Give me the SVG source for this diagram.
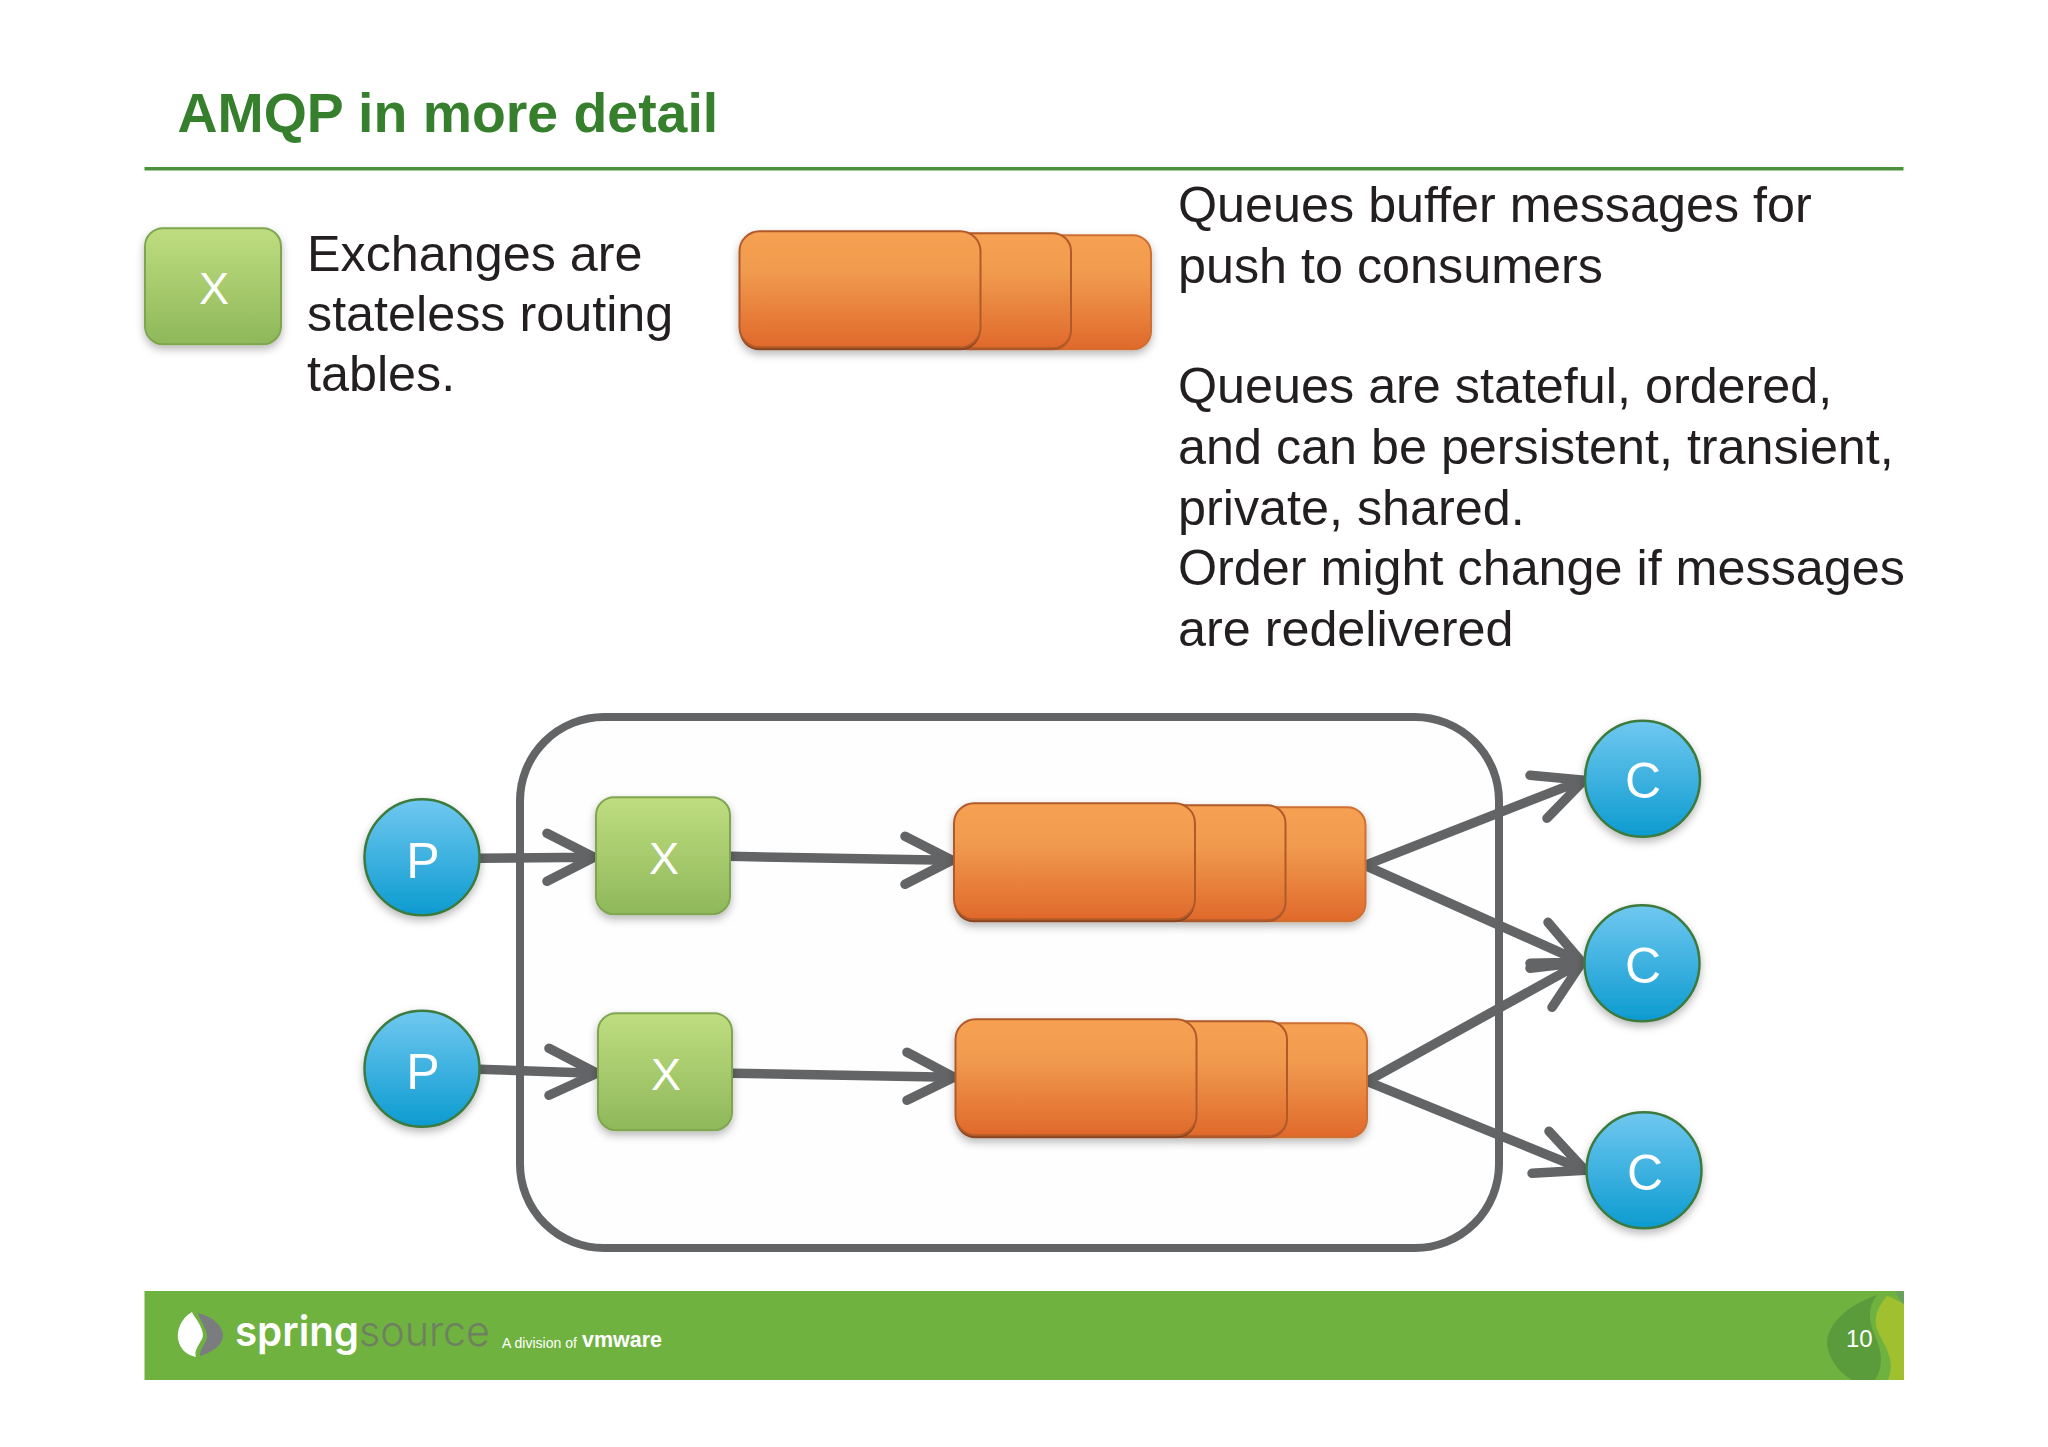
<svg xmlns="http://www.w3.org/2000/svg" xmlns:xlink="http://www.w3.org/1999/xlink" width="2048" height="1447" viewBox="0 0 2048 1447">
<style>
text{font-family:"Liberation Sans",Arial,sans-serif}
.body{font-size:50.300px;fill:#231f20}
.lbl{fill:#fff;text-anchor:middle}
.x{font-size:45px}
.pc{font-size:50px}
.conn{fill:none;stroke:#636466;stroke-width:9.500;stroke-linecap:round;stroke-linejoin:round}
.ball{fill:url(#blue);stroke:#3c7a3c;stroke-width:2.500;filter:url(#sh)}
.xbox{fill:url(#green);stroke:#7fa650;stroke-width:2;filter:url(#sh)}
.o{fill:url(#orange);stroke:#cf6f30;stroke-width:2}
.t{stroke:#b05a2a}
</style>
<defs>
<linearGradient id="blue" x1="0" y1="0" x2="0" y2="1"><stop offset="0" stop-color="#70c8f0"/><stop offset="1" stop-color="#0c9bd0"/></linearGradient>
<linearGradient id="green" x1="0" y1="0" x2="0" y2="1"><stop offset="0" stop-color="#bfdd80"/><stop offset="1" stop-color="#8eb85a"/></linearGradient>
<linearGradient id="orange" x1="0" y1="0" x2="0" y2="1"><stop offset="0" stop-color="#f6a152"/><stop offset="0.35" stop-color="#f09a4e"/><stop offset="1" stop-color="#e0692b"/></linearGradient>
<filter id="sh" x="-20%" y="-20%" width="140%" height="145%"><feDropShadow dx="0" dy="4" stdDeviation="4" flood-color="#000" flood-opacity="0.28"/></filter>
<g id="queue" filter="url(#sh)">
<rect class="o" x="1040" y="234" width="111" height="114" rx="18"/>
<rect x="950" y="234" width="121" height="115" rx="18" fill="#a9552a"/>
<rect class="o t" x="950" y="232" width="121" height="115" rx="18"/>
<rect x="739.500" y="233" width="241" height="116" rx="20" fill="#8a4520"/>
<rect class="o t" x="739.500" y="230" width="241" height="116" rx="20"/>
</g>
</defs>
<rect width="2048" height="1447" fill="#fff"/>
<g id="header">
<text x="177.500" y="132" font-size="55.400" font-weight="700" fill="#36802d">AMQP in more detail</text>
<rect x="144.500" y="167" width="1759" height="3.500" fill="#4c8f3c"/>
</g>
<g id="legend-exchange" transform="translate(0 1.300)">
<rect class="xbox" x="145" y="227" width="136" height="116" rx="18"/>
<text class="lbl x" x="214" y="303">X</text>
</g>
<g id="exchange-text">
<text class="body" x="307" y="270.500">Exchanges are</text>
<text class="body" x="307" y="331">stateless routing</text>
<text class="body" x="307" y="391">tables.</text>
</g>
<g id="legend-queue" transform="translate(0 1.300)"><use xlink:href="#queue" href="#queue"/></g>
<g id="queue-text">
<text class="body" x="1178" y="222">Queues buffer messages for</text>
<text class="body" x="1178" y="283">push to consumers</text>
<text class="body" x="1178" y="403">Queues are stateful, ordered,</text>
<text class="body" x="1178" y="464">and can be persistent, transient,</text>
<text class="body" x="1178" y="525">private, shared.</text>
<text class="body" x="1178" y="585">Order might change if messages</text>
<text class="body" x="1178" y="646">are redelivered</text>
</g>
<g id="broker"><rect x="520" y="717" width="979" height="531" rx="84" fill="#fefefe" stroke="#636466" stroke-width="8"/></g>
<g transform="translate(0 1.300)">
<g id="connectors">
<path class="conn" d="M479 857L592 856M547 832L594 856L547 880"/>
<path class="conn" d="M730 855L950 859M905 835L952 859L905 883"/>
<path class="conn" d="M479 1068L595 1072M549 1047L597 1072L549 1094"/>
<path class="conn" d="M733 1072L952 1076M907 1051L954 1076L907 1099"/>
<path class="conn" d="M1365 864L1582 779M1530 774L1584 779L1547 817"/>
<path class="conn" d="M1365 864L1580 960M1548 921L1582 961L1530 962"/>
<path class="conn" d="M1367 1080L1580 962M1530 967L1582 961L1552 1006"/>
<path class="conn" d="M1367 1080L1583 1168M1549 1130L1585 1169L1532 1172"/>
</g>
<g id="p1"><ellipse class="ball" cx="422" cy="856" rx="57.500" ry="58"/><text class="lbl pc" x="423" y="877">P</text></g>
<g id="p2"><ellipse class="ball" cx="422" cy="1067.500" rx="57.500" ry="58"/><text class="lbl pc" x="423" y="1088">P</text></g>
<g id="x1"><rect class="xbox" x="596" y="796" width="134" height="117" rx="18"/><text class="lbl x" x="664" y="873">X</text></g>
<g id="x2"><rect class="xbox" x="598" y="1012" width="134" height="117" rx="18"/><text class="lbl x" x="666" y="1089">X</text></g>
<g id="q1"><use xlink:href="#queue" href="#queue" transform="translate(214.500 572)"/></g>
<g id="q2"><use xlink:href="#queue" href="#queue" transform="translate(216 788)"/></g>
<g id="c1"><ellipse class="ball" cx="1642.500" cy="777.500" rx="57.500" ry="58"/><text class="lbl pc" x="1643" y="797">C</text></g>
<g id="c2"><ellipse class="ball" cx="1642" cy="962" rx="57.500" ry="58"/><text class="lbl pc" x="1643" y="982">C</text></g>
<g id="c3"><ellipse class="ball" cx="1644" cy="1169" rx="57.500" ry="58"/><text class="lbl pc" x="1645" y="1189">C</text></g>
</g>
<g id="footer" transform="translate(0 1)">
<rect x="144.500" y="1290" width="1759.500" height="89" fill="#6fb23f"/>
<path d="M1877 1294C1845 1305 1827 1325 1827 1342C1828 1358 1840 1372 1852 1379H1875C1884 1365 1882 1350 1875 1335C1868 1320 1868 1305 1877 1294Z" fill="#5a9c3c"/>
<path d="M1887 1295C1876 1308 1872 1320 1880 1335C1888 1350 1895 1362 1888 1379H1904V1303C1898 1300 1892 1296 1887 1295Z" fill="#a0c030"/>
<path d="M1895 1290H1904V1303C1900 1299 1897 1295 1895 1290Z" fill="#6ba05c"/>
<path d="M192 1311C180 1318 177 1330 178 1338C180 1348 186 1354 196 1356C194 1350 198 1345 202 1338C205 1332 200 1324 197 1319C195 1316 193 1314 192 1311Z" fill="#fff"/>
<path d="M198 1312C214 1316 223 1326 223 1334C223 1345 210 1352 200 1355C199 1350 204 1345 207 1337C208 1329 200 1320 198 1312Z" fill="#7b7c80"/>
<text x="235" y="1345" font-size="42" font-weight="600" fill="#fff" style="font-family:Inter,sans-serif" textLength="124" lengthAdjust="spacingAndGlyphs">spring</text>
<text x="359" y="1345" font-size="42" font-weight="300" fill="#6f8062" style="font-family:Inter,sans-serif" textLength="131" lengthAdjust="spacingAndGlyphs">source</text>
<text x="502" y="1347" font-size="14" fill="#fff" textLength="75" lengthAdjust="spacingAndGlyphs">A division of</text>
<text x="582" y="1346" font-size="22" font-weight="700" fill="#fff" textLength="80" lengthAdjust="spacingAndGlyphs">vmware</text>
<text x="1846" y="1346" font-size="24" fill="#fff">10</text>
</g>
</svg>
